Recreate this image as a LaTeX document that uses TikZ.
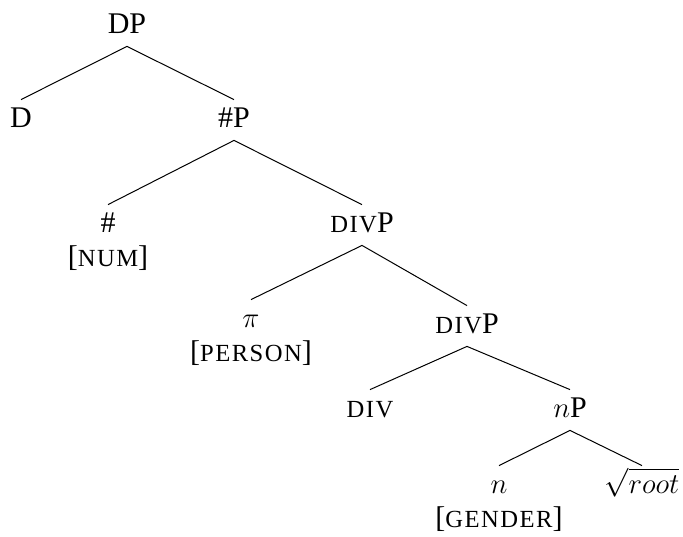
\documentclass[tikz,border=0pt]{standalone}
\usepackage{fontspec}
\setmainfont{Liberation Serif}
\newcommand{\smc}[1]{{\fontsize{12.3}{14}\selectfont\addfontfeature{LetterSpace=6}#1}}

\begin{document}
\begin{tikzpicture}[
    x=0.5pt, y=-0.5pt,
    font=\fontsize{15}{17.5}\selectfont,
    cat/.style={inner sep=3pt, text height=10.5pt, text depth=3.5pt,
                anchor=base},
    feat/.style={inner sep=0pt, text height=10.5pt, text depth=3.5pt,
                 font=\fontsize{15}{17.5}\selectfont},
    every label/.style={feat},
    label distance=0pt,
    branch/.style={line width=0.5pt, color=black}
]
\useasboundingbox (0,0) rectangle (683,536);

% Nodes (placed at their baselines)
\node[cat] (dp)    at (127,33)  {DP};
\node[cat] (d)     at (21,127)  {D};
\node[cat] (hashp) at (234,127) {\#P};
\node[cat, label=below:{[}\smc{NUM}{]}] (hash) at (108,232) {\#};
\node[cat] (divp)  at (362,232) {\smc{DIV}P};
\node[cat, label=below:{[}\smc{PERSON}{]}] (pi) at (251,327) {$\pi$};
\node[cat] (divpb) at (467,333) {\smc{DIV}P};
\node[cat] (div)   at (370,417) {\smc{DIV}};
\node[cat] (np)    at (570,417) {$n$P};
\node[cat, label=below:{[}\smc{GENDER}{]}] (n) at (499,493) {$n$};
\node[cat] (root)  at (642,493) {$\sqrt{root}$};

% Branches
\draw[branch] (dp.south) -- (d.north);
\draw[branch] (dp.south) -- (hashp.north);
\draw[branch] (hashp.south) -- (hash.north);
\draw[branch] (hashp.south) -- (divp.north);
\draw[branch] (divp.south) -- (pi.north);
\draw[branch] (divp.south) -- (divpb.north);
\draw[branch] (divpb.south) -- (div.north);
\draw[branch] (divpb.south) -- (np.north);
\draw[branch] (np.south) -- (n.north);
\draw[branch] (np.south) -- (root.north);

\end{tikzpicture}
\end{document}
